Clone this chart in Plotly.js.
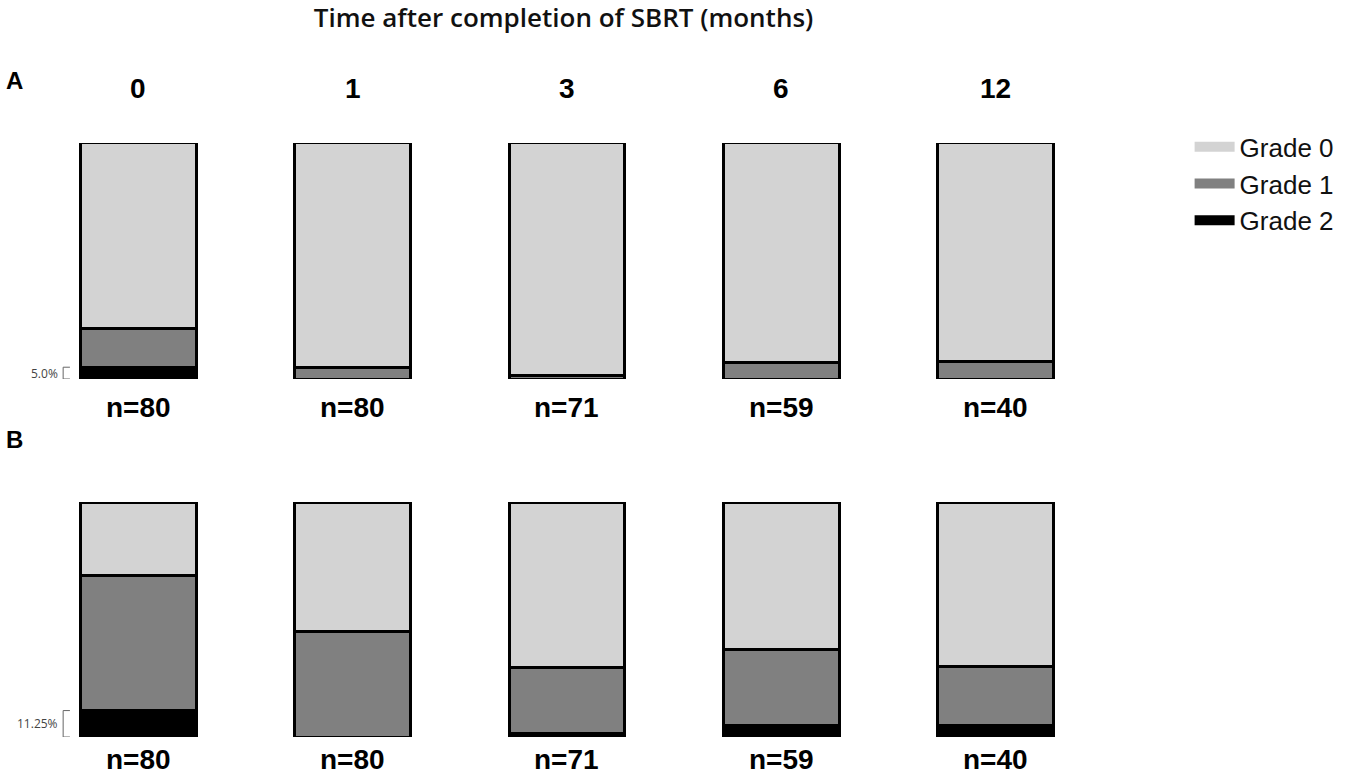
<!DOCTYPE html>
<html>
<head>
<meta charset="utf-8">
<script src="https://cdn.plot.ly/plotly-3.0.1.min.js"></script>
<style>
  body { margin: 0; background: #fff; }
  #graph { width: 1358px; height: 780px; }
</style>
</head>
<body>
<div id="graph"></div>
<script>
// Temps apres SBRT (mois) et effectifs
var months = ['0', '1', '3', '6', '12'];
var nA = [80, 80, 71, 59, 40];
var nB = [80, 80, 71, 59, 40];

// Panneau A : pourcentages par grade
var gradeA0 = [78.75, 95.0, 98.6, 93.2, 92.5];
var gradeA1 = [16.25, 5.0, 1.4, 6.8, 7.5];
var gradeA2 = [5.0, 0, 0, 0, 0];

// Panneau B : pourcentages par grade
var gradeB0 = [31.25, 55.0, 70.4, 62.7, 70.0];
var gradeB1 = [57.5, 45.0, 28.2, 32.2, 25.0];
var gradeB2 = [11.25, 0, 1.4, 5.1, 5.0];

var gradeNames = ['Grade 0', 'Grade 1', 'Grade 2'];
var gradeColors = ['#d3d3d3', '#808080', '#000000'];

var outline = { color: '#000000', width: 3 };

// une trace empilee par grade et par panneau
function stack(vals, idx, xa, ya) {
    return {
        type: 'bar',
        x: months,
        y: vals,
        xaxis: xa,
        yaxis: ya,
        name: gradeNames[idx],
        legendgroup: gradeNames[idx],
        showlegend: false,
        hoverinfo: 'skip',
        marker: { color: gradeColors[idx], line: outline }
    };
}

var data = [
    stack(gradeA2, 2, 'x', 'y'),
    stack(gradeA1, 1, 'x', 'y'),
    stack(gradeA0, 0, 'x', 'y'),
    stack(gradeB2, 2, 'x2', 'y2'),
    stack(gradeB1, 1, 'x2', 'y2'),
    stack(gradeB0, 0, 'x2', 'y2')
];

// entrees de legende : un trait epais fait un rectangle plein
for (let i = 0; i < gradeNames.length; i++) {
    data.push({
        type: 'scatter',
        mode: 'lines',
        x: [null],
        y: [null],
        name: gradeNames[i],
        legendgroup: gradeNames[i],
        showlegend: true,
        line: { color: gradeColors[i], width: 17 }
    });
}

var annotations = [];
var boldFont = { family: 'Liberation Sans, Arial, sans-serif', size: 28, color: '#000', weight: 700 };

// labels des colonnes (mois) en haut et effectifs sous les barres
// (sur un axe category, x numerique = index de la categorie)
for (let i = 0; i < months.length; i++) {
    annotations.push({
        x: i, xref: 'x', y: 0.887, yref: 'paper', yanchor: 'middle',
        text: months[i], showarrow: false, font: boldFont
    });
    annotations.push({
        x: i, xref: 'x', y: 0.478, yref: 'paper', yanchor: 'middle',
        text: 'n=' + nA[i], showarrow: false, font: boldFont
    });
    annotations.push({
        x: i, xref: 'x2', y: 0.026, yref: 'paper', yanchor: 'middle',
        text: 'n=' + nB[i], showarrow: false, font: boldFont
    });
}

// lettres des panneaux
var letterFont = { family: 'Liberation Sans, Arial, sans-serif', size: 24, color: '#000', weight: 700 };
annotations.push({
    x: 0.003, xref: 'paper', y: 0.897, yref: 'paper', xanchor: 'left', yanchor: 'middle',
    text: 'A', showarrow: false, font: letterFont
});
annotations.push({
    x: 0.003, xref: 'paper', y: 0.437, yref: 'paper', xanchor: 'left', yanchor: 'middle',
    text: 'B', showarrow: false, font: letterFont
});

// pourcentages grade 2 au mois 0
var smallFont = { family: 'Open Sans, sans-serif', size: 12, color: '#444' };
annotations.push({
    x: 0.0445, xref: 'paper', y: gradeA2[0] / 2, yref: 'y', xanchor: 'right', yanchor: 'middle',
    text: gradeA2[0].toFixed(1) + '%', showarrow: false, font: smallFont
});
annotations.push({
    x: 0.0445, xref: 'paper', y: gradeB2[0] / 2, yref: 'y2', xanchor: 'right', yanchor: 'middle',
    text: gradeB2[0].toFixed(2) + '%', showarrow: false, font: smallFont
});

function bracket(top, yref) {
    return {
        type: 'path', xref: 'paper', yref: yref,
        path: 'M 0.0515,' + top + ' L 0.0465,' + top + ' L 0.0465,0 L 0.0515,0',
        line: { color: '#666', width: 1 }
    };
}

var layout = {
    width: 1358,
    height: 780,
    margin: { l: 0, r: 0, t: 0, b: 0 },
    paper_bgcolor: '#ffffff',
    plot_bgcolor: '#ffffff',
    barmode: 'stack',
    bargap: 0.46,
    title: {
        text: 'Time after completion of SBRT (months)',
        x: 0.415, xanchor: 'center', y: 0.977, yanchor: 'middle',
        font: { family: 'Open Sans, sans-serif', size: 26, color: '#111', weight: 600 }
    },
    xaxis: { type: 'category', domain: [0.0228, 0.8122], range: [-0.5, 4.5], visible: false, anchor: 'y' },
    yaxis: { domain: [0.5141, 0.8167], range: [0, 100], visible: false, anchor: 'x' },
    xaxis2: { type: 'category', domain: [0.0228, 0.8122], range: [-0.5, 4.5], visible: false, anchor: 'y2' },
    yaxis2: { domain: [0.0551, 0.3564], range: [0, 100], visible: false, anchor: 'x2' },
    legend: {
        x: 0.876, y: 0.842, xanchor: 'left', yanchor: 'top',
        traceorder: 'normal',
        itemwidth: 40,
        font: { family: 'Liberation Sans, Arial, sans-serif', size: 26, color: '#111' },
        bgcolor: 'rgba(0,0,0,0)'
    },
    annotations: annotations,
    shapes: [bracket(gradeA2[0], 'y'), bracket(gradeB2[0], 'y2')]
};

Plotly.newPlot('graph', data, layout, { displayModeBar: false, staticPlot: true });
</script>
</body>
</html>
